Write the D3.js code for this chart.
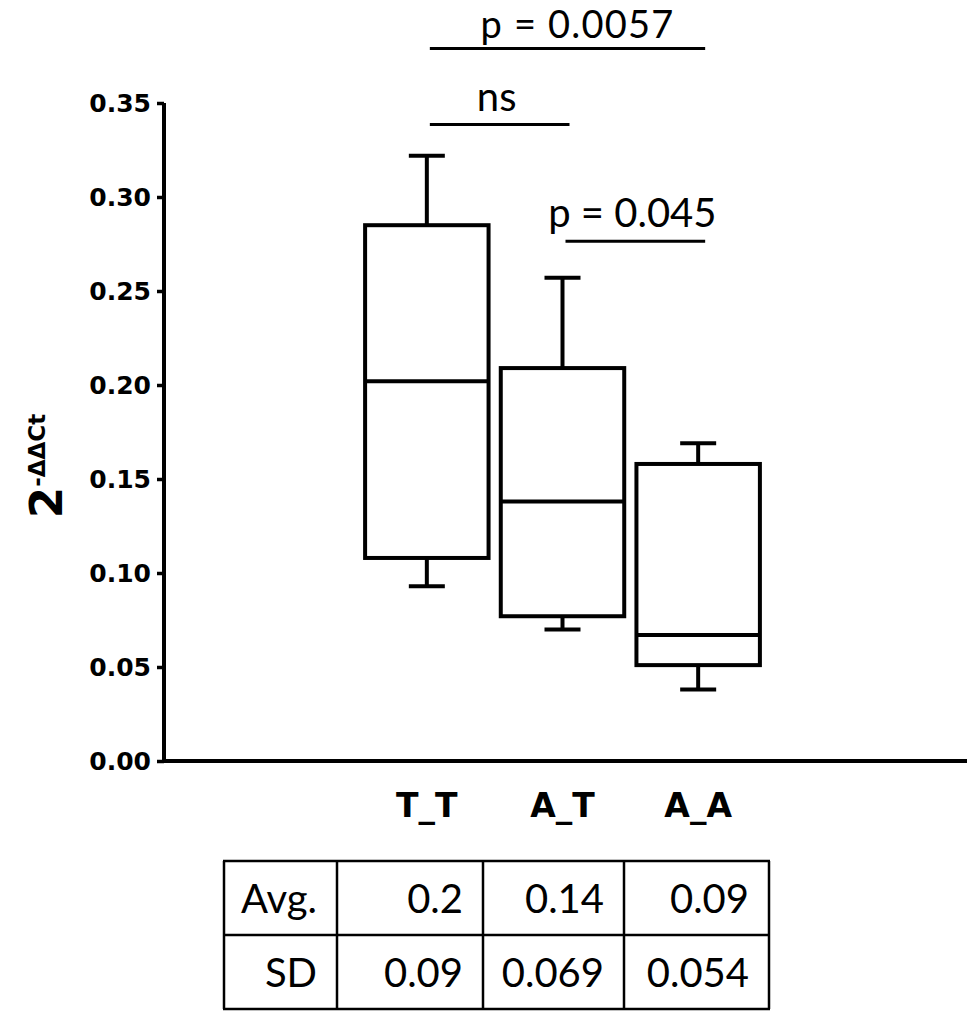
<!DOCTYPE html>
<html>
<head>
<meta charset="utf-8">
<script src="https://cdn.jsdelivr.net/npm/d3@7"></script>
<style>
  html, body { margin: 0; padding: 0; background: #fff; }
  svg { display: block; }
</style>
</head>
<body>
<svg id="chart" width="967" height="1012"></svg>
<script>
// ---- data ----
const categories = ["T_T", "A_T", "A_A"];
const whiskerLow  = [0.093, 0.070, 0.038];
const q1          = [0.108, 0.077, 0.051];
const medians     = [0.202, 0.138, 0.067];
const q3          = [0.285, 0.209, 0.158];
const whiskerHigh = [0.322, 0.257, 0.169];
const yTicks = [0, 0.05, 0.10, 0.15, 0.20, 0.25, 0.30, 0.35];
const comparisons = [
  { a: "T_T", b: "A_A", label: "p = 0.0057", level: 0.379 },
  { a: "T_T", b: "A_T", label: "ns",         level: 0.3385 },
  { a: "A_T", b: "A_A", label: "p = 0.045",  level: 0.2765 }
];
const tableRowLabels = ["Avg.", "SD"];
const tableAvg = ["0.2", "0.14", "0.09"];
const tableSD  = ["0.09", "0.069", "0.054"];

// ---- layout ----
const svg = d3.select("#chart");
const axisX = 164, axisTop = 103, axisBottom = 761;
const y = d3.scaleLinear().domain([0, 0.35]).range([axisBottom, axisTop]);
const x = d3.scaleBand().domain(categories).range([359, 766]).paddingInner(0.09).paddingOuter(0.045);
const capHalf = 18;
const sw = 4;

// y axis
const yAxis = d3.axisLeft(y).tickValues(yTicks).tickFormat(d3.format(".2f")).tickSize(7).tickPadding(6);
const gy = svg.append("g").attr("transform", `translate(${axisX},0)`).call(yAxis);
gy.select(".domain").attr("stroke", "#000").attr("stroke-width", sw)
  .attr("d", `M0,${axisTop}V${axisBottom}`);
gy.selectAll(".tick line").attr("stroke", "#000").attr("stroke-width", 3.5);
gy.selectAll(".tick text").attr("font-family", "DejaVu Sans").attr("font-weight", "bold")
  .attr("font-size", 25).attr("fill", "#000");

// x axis line
svg.append("line").attr("x1", axisX - sw / 2).attr("x2", 967).attr("y1", axisBottom).attr("y2", axisBottom)
  .attr("stroke", "#000").attr("stroke-width", sw);

// category labels
svg.append("g").selectAll("text").data(categories).join("text")
  .attr("x", d => x(d) + x.bandwidth() / 2).attr("y", 817)
  .attr("text-anchor", "middle").attr("font-family", "DejaVu Sans").attr("font-weight", "bold")
  .attr("font-size", 33).text(d => d);

// y axis title
const yt = svg.append("text").attr("transform", "translate(62,466) rotate(-90)")
  .attr("text-anchor", "middle").attr("font-family", "DejaVu Sans").attr("font-weight", "bold").attr("fill", "#000");
yt.append("tspan").attr("font-size", 45).text("2");
yt.append("tspan").attr("font-size", 23).attr("dy", -17).text("-ΔΔCt");

// boxes
const boxes = svg.append("g").selectAll("g").data(categories).join("g");
boxes.each(function (d, i) {
  const g = d3.select(this);
  const cx = x(d) + x.bandwidth() / 2;
  const line = (x1, y1, x2, y2) => g.append("line").attr("x1", x1).attr("y1", y1).attr("x2", x2).attr("y2", y2)
    .attr("stroke", "#000").attr("stroke-width", sw);
  line(cx, y(q3[i]), cx, y(whiskerHigh[i]));
  line(cx - capHalf, y(whiskerHigh[i]), cx + capHalf, y(whiskerHigh[i]));
  line(cx, y(q1[i]), cx, y(whiskerLow[i]));
  line(cx - capHalf, y(whiskerLow[i]), cx + capHalf, y(whiskerLow[i]));
  g.append("rect").attr("x", x(d)).attr("y", y(q3[i])).attr("width", x.bandwidth())
    .attr("height", y(q1[i]) - y(q3[i])).attr("fill", "#fff").attr("stroke", "#000").attr("stroke-width", sw);
  line(x(d), y(medians[i]), x(d) + x.bandwidth(), y(medians[i]));
});

// significance bars
const center = c => x(c) + x.bandwidth() / 2;
const sig = svg.append("g");
comparisons.forEach(c => {
  const x1 = center(c.a) + 3, x2 = center(c.b) + 7;
  const yy = y(c.level);
  sig.append("line").attr("x1", x1).attr("x2", x2).attr("y1", yy).attr("y2", yy)
    .attr("stroke", "#000").attr("stroke-width", 3);
  const top = c.label === "p = 0.0057";
  const tx = top ? (x1 + x2) / 2 + 10 : (x1 + x2) / 2 - 3;
  sig.append("text").attr("x", tx)
    .attr("y", top ? 38 : yy - 14).attr("text-anchor", "middle")
    .attr("font-family", "Lato").attr("font-size", top ? 38 : 40)
    .attr("letter-spacing", top ? 1.2 : 0).text(c.label);
});

// table
const colEdges = [224, 337, 483, 624, 769];
const rowEdges = [861, 935, 1009];
const tbl = svg.append("g");
const rows = [[tableRowLabels[0], ...tableAvg], [tableRowLabels[1], ...tableSD]];
rows.forEach((r, ri) => {
  r.forEach((t, ci) => {
    tbl.append("text").attr("x", colEdges[ci + 1] - 20).attr("y", rowEdges[ri] + 52)
      .attr("text-anchor", "end").attr("font-family", "Lato").attr("font-size", 40).text(t);
  });
});
colEdges.forEach(cx => tbl.append("line").attr("x1", cx).attr("x2", cx).attr("y1", rowEdges[0]).attr("y2", rowEdges[2])
  .attr("stroke", "#000").attr("stroke-width", 2.5));
rowEdges.forEach(ry => tbl.append("line").attr("x1", colEdges[0] - 1).attr("x2", colEdges[4] + 1).attr("y1", ry).attr("y2", ry)
  .attr("stroke", "#000").attr("stroke-width", 2.5));
</script>
</body>
</html>
